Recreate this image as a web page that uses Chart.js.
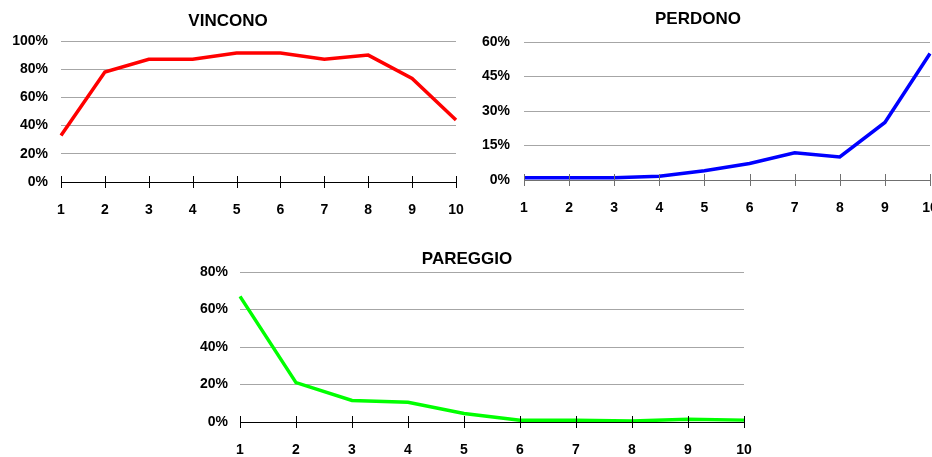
<!DOCTYPE html>
<html>
<head>
<meta charset="utf-8">
<script src="https://cdn.jsdelivr.net/npm/chart.js@4/dist/chart.umd.min.js"></script>
<style>
  html, body { margin: 0; padding: 0; background: #fff; overflow: hidden; width: 932px; height: 457px; }
  .box { position: absolute; }
  #boxWin { left: 0; top: 0; width: 466px; height: 225px; }
  #boxLose { left: 466px; top: 0; width: 480px; height: 225px; }
  #boxDraw { left: 190px; top: 235px; width: 570px; height: 222px; }
</style>
</head>
<body>
<div class="box" id="boxWin"><canvas id="chartWin"></canvas></div>
<div class="box" id="boxLose"><canvas id="chartLose"></canvas></div>
<div class="box" id="boxDraw"><canvas id="chartDraw"></canvas></div>
<script>
// data (percent)
const labels = ['1', '2', '3', '4', '5', '6', '7', '8', '9', '10'];
const vincono = [33, 78, 87, 87, 91.5, 91.5, 87, 90, 73.5, 44];
const perdono = [1, 1, 1, 1.6, 4, 7.2, 11.8, 10, 25, 55];
const pareggio = [67, 21, 11.5, 10.5, 4.5, 1, 1, 0.5, 1.5, 1];

const FONT = '"Liberation Sans", Arial, sans-serif';

// tick marks crossing the x axis line
const crossTicks = {
    id: 'crossTicks',
    afterDraw(chart, args, opts) {
        const x = chart.scales.x;
        const y = chart.chartArea.bottom;
        const ctx = chart.ctx;
        ctx.save();
        ctx.strokeStyle = opts.color || '#000';
        ctx.lineWidth = 1;
        ctx.beginPath();
        for (let i = 0; i < x.ticks.length; i++) {
            const px = Math.round(x.getPixelForTick(i)) + 0.5;
            ctx.moveTo(px, y - 6);
            ctx.lineTo(px, y + 6);
        }
        ctx.stroke();
        ctx.restore();
    }
};

function makeChart(id, title, data, color, cfg) {
    const ctx = document.getElementById(id).getContext('2d');
    return new Chart(ctx, {
        type: 'line',
        data: {
            labels: labels,
            datasets: [{
                data: data,
                borderColor: color,
                borderWidth: 3.5,
                pointRadius: 0,
                tension: 0,
                fill: false
            }]
        },
        plugins: [crossTicks],
        options: {
            responsive: true,
            maintainAspectRatio: false,
            animation: false,
            layout: { padding: { left: 0, right: cfg.padRight, top: 0, bottom: 0 } },
            plugins: {
                legend: { display: false },
                tooltip: { enabled: false },
                crossTicks: { color: cfg.axisColor },
                title: {
                    display: true,
                    text: title,
                    color: '#000',
                    font: { family: FONT, size: 17, weight: 'bold', lineHeight: 1 },
                    padding: { top: cfg.titleTop, bottom: cfg.titleBottom }
                }
            },
            scales: {
                x: {
                    grid: {
                        display: true, drawOnChartArea: false, drawTicks: true,
                        tickLength: cfg.xGap, tickColor: 'rgba(0,0,0,0)'
                    },
                    border: { display: true, color: cfg.axisColor, width: 1 },
                    ticks: {
                        color: '#000',
                        font: { family: FONT, size: 14, weight: 'bold' },
                        padding: 0,
                        maxRotation: 0,
                        autoSkip: false
                    },
                    afterFit: s => { s.height = cfg.xHeight; }
                },
                y: {
                    min: 0,
                    max: cfg.max,
                    grid: { color: '#a6a6a6', lineWidth: 1, drawTicks: false },
                    border: { display: false },
                    ticks: {
                        stepSize: cfg.step,
                        color: '#000',
                        font: { family: FONT, size: 14, weight: 'bold' },
                        padding: cfg.yPad,
                        callback: v => v + '%'
                    },
                    afterFit: s => { s.width = cfg.yWidth; }
                }
            }
        }
    });
}

makeChart('chartWin', 'VINCONO', vincono, '#ff0000', {
    max: 100, step: 20, yWidth: 61, padRight: 10, titleTop: 13, titleBottom: 11,
    xHeight: 43, xGap: 20, yPad: 13, axisColor: '#000'
});
makeChart('chartLose', 'PERDONO', perdono, '#0000ff', {
    max: 60, step: 15, yWidth: 58, padRight: 16, titleTop: 11, titleBottom: 14,
    xHeight: 45, xGap: 20, yPad: 14, axisColor: '#707070'
});
makeChart('chartDraw', 'PAREGGIO', pareggio, '#00ff00', {
    max: 80, step: 20, yWidth: 50, padRight: 16, titleTop: 16, titleBottom: 4,
    xHeight: 35, xGap: 20, yPad: 12, axisColor: '#000'
});
</script>
</body>
</html>
